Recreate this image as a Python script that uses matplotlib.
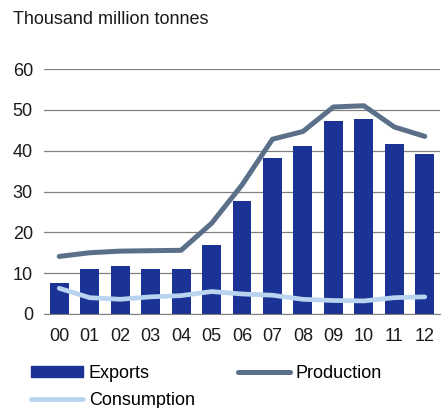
import matplotlib.pyplot as plt
from matplotlib.patches import Patch
from matplotlib.lines import Line2D

plt.rcParams['font.family'] = ['Liberation Sans', 'DejaVu Sans']

years = ['00', '01', '02', '03', '04', '05', '06', '07', '08', '09', '10', '11', '12']
exports = [7.7, 11.0, 11.7, 11.1, 11.0, 16.9, 27.6, 38.2, 41.1, 47.2, 47.8, 41.7, 39.3]
production = [14.1, 15.0, 15.4, 15.5, 15.6, 22.2, 31.6, 42.8, 44.7, 50.7, 51.0, 45.8, 43.5]
consumption = [6.3, 4.0, 3.6, 4.2, 4.5, 5.5, 4.9, 4.6, 3.6, 3.3, 3.2, 4.0, 4.2]

c_exp = '#1b3394'
c_prod = '#5b7088'
c_cons = '#b8d4f0'

fig = plt.figure(figsize=(4.46, 4.08), dpi=100)
ax = fig.add_axes([44/446, 1-314/408, 396/446, 245/408])

x = range(len(years))
ax.bar(x, exports, width=0.62, color=c_exp, zorder=2)
ax.plot(x, production, color=c_prod, lw=3.6, solid_capstyle='round', solid_joinstyle='round', zorder=3)
ax.plot(x, consumption, color=c_cons, lw=3.4, solid_capstyle='round', solid_joinstyle='round', zorder=3)

ax.set_xlim(-0.5, 12.5)
ax.set_ylim(0, 60)
ax.set_yticks(range(0, 61, 10))
ax.set_xticks(list(x))
ax.set_xticklabels(years)
ax.yaxis.grid(True, color='#808080', lw=0.9, zorder=0)
for s in ['top', 'right', 'left']:
    ax.spines[s].set_visible(False)
ax.spines['bottom'].set_color('#808080')
ax.tick_params(length=0, labelsize=13, colors='#1a1a1a', pad=8)
ax.tick_params(axis='x', pad=10)

fig.text(13/446, 1-20/408, 'Thousand million tonnes', fontsize=13, va='center', color='#1a1a1a')

handles = [Patch(color=c_exp),
           Line2D([], [], color=c_cons, lw=3.4, solid_capstyle='round'),
           Line2D([], [], color=c_prod, lw=3.6, solid_capstyle='round')]
labels = ['Exports', 'Consumption', 'Production']
fig.legend(handles, labels, ncol=2, loc='upper left', bbox_to_anchor=(31/446, 1-365/408),
           frameon=False, fontsize=13, handlelength=2.9, handleheight=0.5,
           handletextpad=0.3, columnspacing=2.4, labelspacing=0.55, borderaxespad=0, borderpad=0)

fig.savefig('out.png', dpi=100)
